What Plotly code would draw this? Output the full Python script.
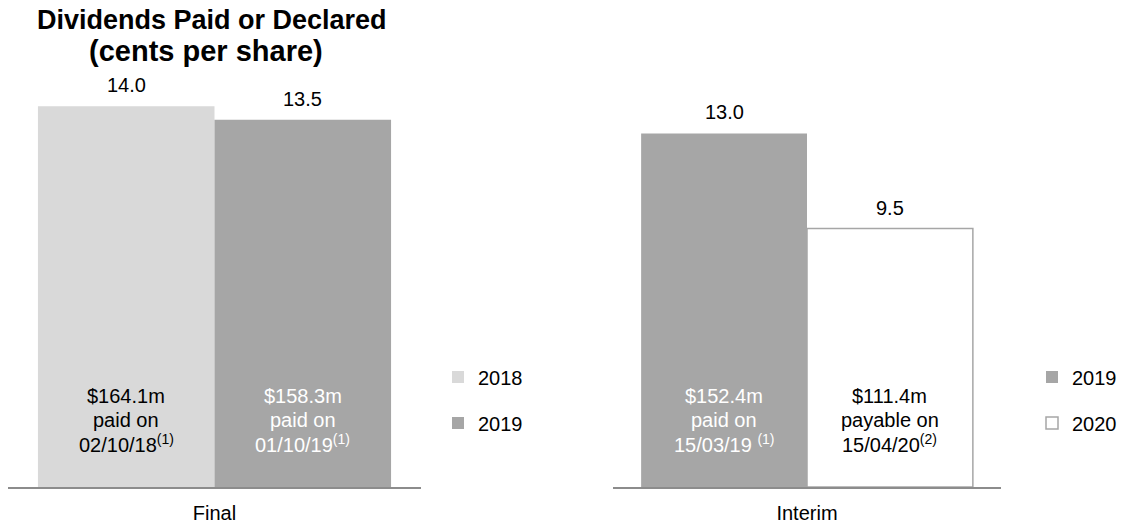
import plotly.graph_objects as go

# ---------------- data ----------------
final_category = "Final"
interim_category = "Interim"

final_years = ["2018", "2019"]
final_values = [14.0, 13.5]
final_notes = [
    "$164.1m<br>paid on<br>02/10/18<sup>(1)</sup>",
    "$158.3m<br>paid on<br>01/10/19<sup>(1)</sup>",
]

interim_years = ["2019", "2020"]
interim_values = [13.0, 9.5]
interim_notes = [
    "$152.4m<br>paid on<br>15/03/19 <sup>(1)</sup>",
    "$111.4m<br>payable on<br>15/04/20<sup>(2)</sup>",
]

title_lines = ["Dividends Paid or Declared", "(cents per share)"]

# ---------------- styles ----------------
W, H = 1123, 525
FONT = "Liberation Sans, Arial, sans-serif"
LIGHT = "#d9d9d9"
MID = "#a6a6a6"
AXIS = "#8c8c8c"
BARGAP = 0.145

final_fill = [LIGHT, MID]
final_note_color = ["#000000", "#ffffff"]
interim_fill = [MID, "#ffffff"]
interim_line_w = [0, 1.5]
interim_note_color = ["#ffffff", "#000000"]

fig = go.Figure()

for i, (yr, v) in enumerate(zip(final_years, final_values)):
    fig.add_trace(go.Bar(
        x=[final_category], y=[v], name=yr,
        marker=dict(color=final_fill[i], line=dict(width=0)),
        xaxis="x", yaxis="y", legend="legend", legendgroup="f" + yr,
        hoverinfo="skip",
    ))

for i, (yr, v) in enumerate(zip(interim_years, interim_values)):
    fig.add_trace(go.Bar(
        x=[interim_category], y=[v], name=yr,
        marker=dict(color=interim_fill[i], line=dict(color=MID, width=interim_line_w[i])),
        xaxis="x2", yaxis="y", legend="legend2", legendgroup="i" + yr,
        hoverinfo="skip",
    ))

annotations = []
offsets = [-(1 - BARGAP) / 4, (1 - BARGAP) / 4]

def px_to_paper_y(py):
    return (H - py) / H

note_line_px = [396, 420, 443]

def add_labels(xref, values, notes, colors):
    for i, (v, note) in enumerate(zip(values, notes)):
        annotations.append(dict(
            x=offsets[i], y=v, xref=xref, yref="y",
            text=f"{v:.1f}", showarrow=False, yanchor="middle", yshift=21,
            font=dict(size=20, color="#000000", family=FONT),
        ))
        for j, line in enumerate(note.split("<br>")):
            annotations.append(dict(
                x=offsets[i], y=px_to_paper_y(note_line_px[j]), xref=xref, yref="paper",
                text=line, showarrow=False, yanchor="middle",
                font=dict(size=20, color=colors[i], family=FONT),
            ))

add_labels("x", final_values, final_notes, final_note_color)
add_labels("x2", interim_values, interim_notes, interim_note_color)

title_px = [20, 51]
title_x_px = [212, 206]
title_size = [27, 29]
for line, px, py, sz in zip(title_lines, title_x_px, title_px, title_size):
    annotations.append(dict(
        x=px / W, y=px_to_paper_y(py), xref="paper", yref="paper",
        text=f"<b>{line}</b>", showarrow=False, xanchor="center", yanchor="middle",
        font=dict(size=sz, color="#000000", family=FONT),
    ))

axis_common = dict(
    showline=True, linecolor=AXIS, linewidth=1.5, ticks="", showgrid=False,
    zeroline=False, tickfont=dict(size=20, color="#000000", family=FONT),
    fixedrange=True, anchor="y", ticklabelstandoff=7,
)

legend_common = dict(
    xanchor="left", yanchor="middle", y=0.238,
    font=dict(size=20, color="#000000", family=FONT),
    bgcolor="rgba(0,0,0,0)", tracegroupgap=17, orientation="v",
)

fig.update_layout(
    width=W, height=H,
    margin=dict(l=0, r=0, t=0, b=0),
    paper_bgcolor="#ffffff", plot_bgcolor="#ffffff",
    font=dict(family=FONT, size=20, color="#000000"),
    barmode="group", bargap=BARGAP, bargroupgap=0,
    xaxis=dict(domain=[8 / W, 421 / W], **axis_common),
    xaxis2=dict(domain=[613 / W, 1001 / W], **axis_common),
    yaxis=dict(domain=[px_to_paper_y(487), px_to_paper_y(79)], range=[0, 15],
               visible=False, fixedrange=True),
    legend=dict(x=438 / W, **legend_common),
    legend2=dict(x=1032 / W, **legend_common),
    annotations=annotations,
    showlegend=True,
)

fig.write_html("out.html", config={"displayModeBar": False},
               post_script="document.body.style.margin='0';document.body.style.overflow='hidden';")
